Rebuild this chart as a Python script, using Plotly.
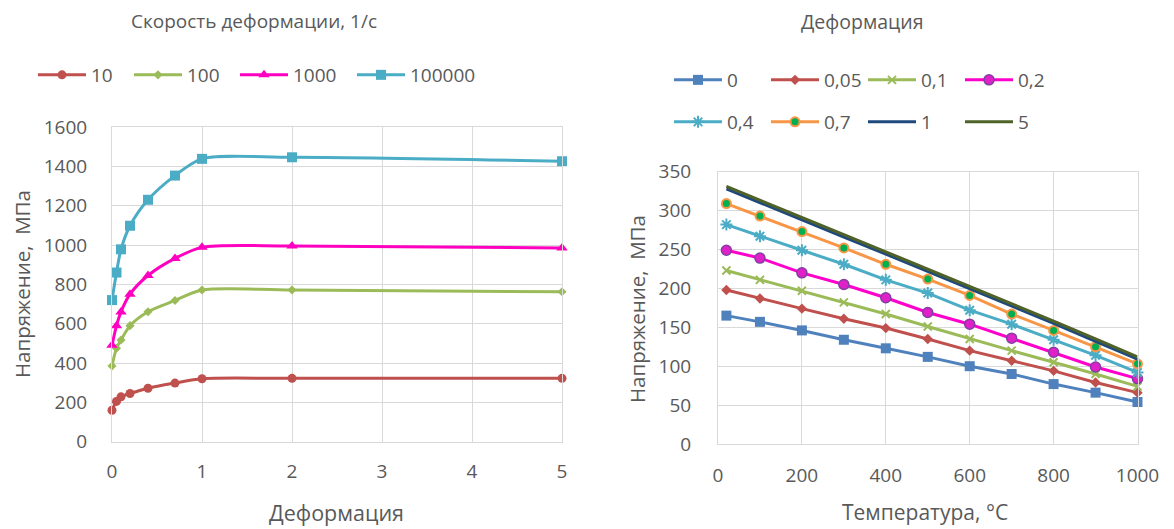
import plotly.graph_objects as go

# ---- data: stress vs strain for several strain rates (left panel) ----
strain = [0, 0.05, 0.1, 0.2, 0.4, 0.7, 1, 2, 5]
rate_names = ["10", "100", "1000", "100000"]
stress_10 = [160, 205, 228, 245, 272, 298, 320, 322, 322]
stress_100 = [385, 475, 517, 590, 661, 718, 771, 771, 762]
stress_1000 = [490, 590, 660, 750, 845, 932, 988, 995, 985]
stress_100000 = [720, 860, 978, 1098, 1230, 1353, 1438, 1446, 1426]

# ---- data: stress vs temperature for several strains (right panel) ----
temperature = [20, 100, 200, 300, 400, 500, 600, 700, 800, 900, 1000]
strain_names = ["0", "0,05", "0,1", "0,2", "0,4", "0,7", "1", "5"]
s_0 = [165, 157, 146, 134, 123, 112, 100, 90, 77, 66, 54]
s_005 = [198, 187, 174, 161, 149, 135, 120, 107, 94, 79, 66]
s_01 = [223, 211, 197, 182, 167, 151, 135, 120, 105, 90, 74]
s_02 = [249, 239, 220, 205, 188, 169, 154, 136, 118, 99, 84]
s_04 = [282, 267, 249, 231, 211, 194, 172, 154, 134, 114, 92]
s_07 = [309, 293, 273, 252, 231, 212, 191, 167, 146, 125, 103]
s_1 = [328, 310, 288, 266, 244, 222, 200, 178, 155, 132, 109]
s_5 = [331, 313, 291, 269, 247, 225, 203, 181, 158, 135, 112]

W, H = 1174, 529
FONT = "Open Sans"
GREY = "#595959"
GRID = "#d9d9d9"


def px(x):
    return x / W


def py(y):
    return 1 - y / H


fig = go.Figure()

# each strain-rate entry gets its own legend box so the row spacing follows the text
left_legends = ["legend", "legend4", "legend5", "legend6"]
left_legend_x = [33, 129, 235, 352]
left_styles = [
    dict(color="#c0504d", symbol="circle", size=9),
    dict(color="#9bbb59", symbol="diamond", size=7),
    dict(color="#ff00c0", symbol="triangle-up", size=10),
    dict(color="#4bacc6", symbol="square", size=10),
]
for name, ys, st, lg in zip(rate_names,
                            [stress_10, stress_100, stress_1000, stress_100000],
                            left_styles, left_legends):
    fig.add_trace(go.Scatter(
        x=strain, y=ys, name=name, mode="lines+markers",
        line=dict(color=st["color"], width=3, shape="spline", smoothing=0.8),
        marker=dict(color=st["color"], symbol=st["symbol"], size=st["size"]),
        cliponaxis=False, xaxis="x", yaxis="y", legend=lg,
    ))

right_styles = [
    dict(color="#4f81bd", marker=dict(symbol="square", size=10, color="#4f81bd")),
    dict(color="#c0504d", marker=dict(symbol="diamond", size=8, color="#c0504d")),
    dict(color="#9bbb59", marker=dict(symbol="x-thin-open", size=8,
                                      color="#9bbb59", line=dict(width=2, color="#9bbb59"))),
    dict(color="#ff00cc", marker=dict(symbol="circle", size=10, color="#e020c8",
                                      line=dict(width=1.5, color="#8040a0"))),
    dict(color="#4bacc6", marker=dict(symbol="asterisk-open", size=10,
                                      color="#4bacc6", line=dict(width=2, color="#4bacc6"))),
    dict(color="#f79646", marker=dict(symbol="circle", size=9, color="#00b050",
                                      line=dict(width=2, color="#f79646"))),
    dict(color="#1f497d", marker=None),
    dict(color="#4f6228", marker=None),
]
right_series = [s_0, s_005, s_01, s_02, s_04, s_07, s_1, s_5]
for i, (name, ys, st) in enumerate(zip(strain_names, right_series, right_styles)):
    kw = dict(mode="lines+markers", marker=st["marker"]) if st["marker"] else dict(mode="lines")
    fig.add_trace(go.Scatter(
        x=temperature, y=ys, name=name,
        line=dict(color=st["color"], width=3),
        cliponaxis=False, xaxis="x2", yaxis="y2",
        legend="legend2" if i < 4 else "legend3",
        **kw,
    ))

axis_common = dict(
    showgrid=True, gridcolor=GRID, gridwidth=1, zeroline=False,
    showline=True, linecolor=GRID, linewidth=1, mirror=True,
    ticks="", automargin=False,
    tickfont=dict(family=FONT, size=19, color=GREY),
)

legend_common = dict(
    orientation="h", xanchor="left", yanchor="middle",
    font=dict(family=FONT, size=19, color=GREY),
    itemwidth=48, bgcolor="rgba(0,0,0,0)", tracegroupgap=0,
)

legend_layout = {
    lg: dict(x=px(x0), y=py(75), **legend_common)
    for lg, x0 in zip(left_legends, left_legend_x)
}
legend_layout["legend2"] = dict(x=px(669), y=py(80), entrywidth=34, **legend_common)
legend_layout["legend3"] = dict(x=px(669), y=py(122), entrywidth=34, **legend_common)

fig.update_layout(
    width=W, height=H,
    margin=dict(l=0, r=0, t=0, b=0, autoexpand=False),
    paper_bgcolor="white", plot_bgcolor="white",
    xaxis=dict(domain=[px(112), px(562)], range=[0, 5], dtick=1,
               anchor="y", ticklabelstandoff=12, **axis_common),
    yaxis=dict(domain=[py(441.7), py(127)], range=[0, 1600], dtick=200,
               anchor="x", ticklabelstandoff=20, **axis_common),
    xaxis2=dict(domain=[px(718), px(1137.5)], range=[0, 1000], dtick=200,
                anchor="y2", ticklabelstandoff=14, **axis_common),
    yaxis2=dict(domain=[py(444), py(171.7)], range=[0, 350], dtick=50,
                anchor="x2", ticklabelstandoff=22, **axis_common),
    showlegend=True,
    **legend_layout,
)

titles = [
    ("Скорость деформации, 1/с", 254, 21, 19, 0),
    ("Деформация", 862, 21, 19.5, 0),
    ("Деформация", 336, 512, 21.5, 0),
    ("Температура, °С", 925, 512, 21, 0),
    ("Напряжение,  МПа", 22, 284, 20.5, -90),
    ("Напряжение,  МПа", 637, 309, 20.5, -90),
]
for text, x, y, size, ang in titles:
    fig.add_annotation(
        text=text, x=px(x), y=py(y), xref="paper", yref="paper",
        showarrow=False, textangle=ang, xanchor="center", yanchor="middle",
        font=dict(family=FONT, size=size, color=GREY),
    )

fig.write_html("out.html")
